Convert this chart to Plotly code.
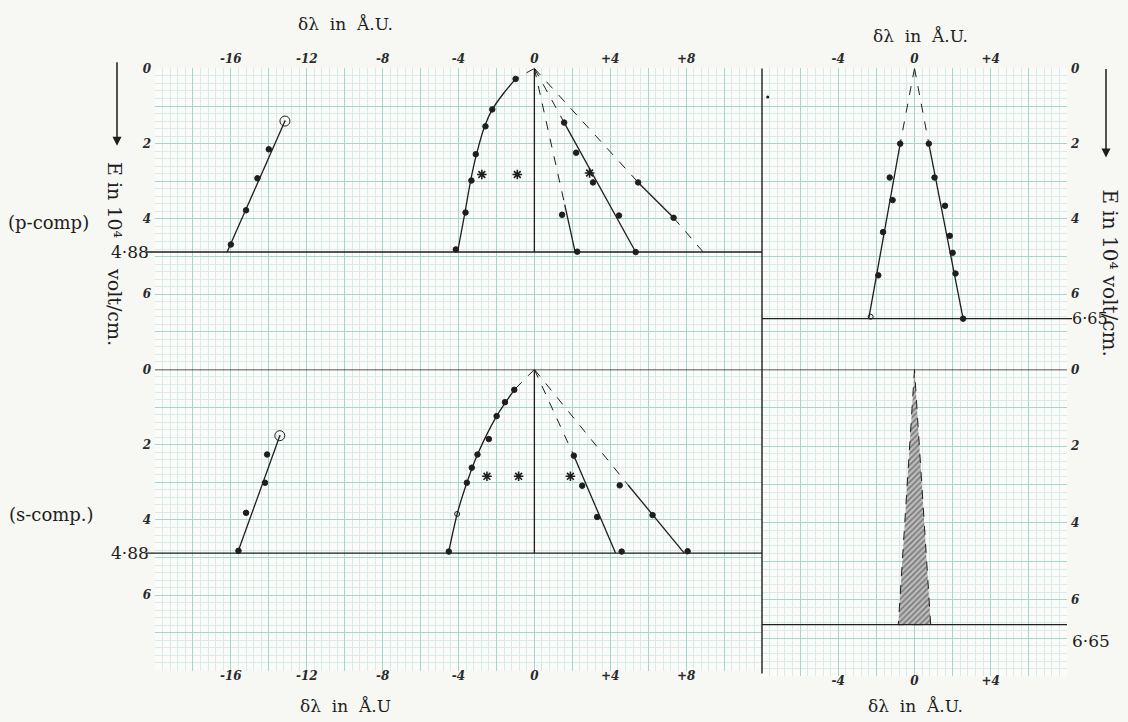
import numpy as np
import plotly.graph_objects as go

W, H = 1128, 722

# ---------------- data ----------------
E_LEFT = 4.88     # limit field, left panels
E_RIGHT = 6.65    # limit field, right panels

# ---- upper-left (p-comp) ----
p_far_line_x = [-13.15, -16.2]
p_far_line_y = [1.40, 4.88]
p_far_pts_x = [-14.0, -14.6, -15.2, -16.0]
p_far_pts_y = [2.15, 2.92, 3.77, 4.68]
p_far_circ_x = [-13.15]
p_far_circ_y = [1.40]

p_curve_dash_x = [0.0, -0.99]
p_curve_dash_y = [0.0, 0.28]
p_curve_x = [-0.99, -1.62, -2.22, -2.62, -3.05, -3.36, -3.66, -4.05]
p_curve_y = [0.28, 0.66, 1.09, 1.54, 2.28, 2.98, 3.83, 4.88]
p_curve_pts_x = [-0.99, -2.22, -2.58, -3.09, -3.32, -3.63, -4.14]
p_curve_pts_y = [0.28, 1.09, 1.54, 2.28, 2.98, 3.83, 4.81]

p_star_x = [-2.77, -0.9, 2.91]
p_star_y = [2.82, 2.82, 2.78]

p_l1_dash_x = [0.0, 1.60]
p_l1_dash_y = [0.0, 3.62]
p_l1_x = [1.60, 2.15]
p_l1_y = [3.62, 4.88]
p_l1_pts_x = [1.46, 2.26]
p_l1_pts_y = [3.89, 4.87]

p_l2_dash_x = [0.0, 1.57]
p_l2_dash_y = [0.0, 1.44]
p_l2_x = [1.57, 5.34]
p_l2_y = [1.44, 4.88]
p_l2_pts_x = [1.57, 2.20, 3.09, 4.46, 5.34]
p_l2_pts_y = [1.44, 2.24, 3.03, 3.91, 4.88]

p_l3_dash1_x = [0.0, 5.47]
p_l3_dash1_y = [0.0, 3.03]
p_l3_x = [5.47, 7.34]
p_l3_y = [3.03, 3.97]
p_l3_dash2_x = [7.34, 8.90]
p_l3_dash2_y = [3.97, 4.88]
p_l3_pts_x = [5.47, 7.34]
p_l3_pts_y = [3.03, 3.97]

# ---- lower-left (s-comp) ----
s_far_line_x = [-13.42, -15.65]
s_far_line_y = [1.76, 4.88]
s_far_pts_x = [-14.09, -14.2, -15.2, -15.6]
s_far_pts_y = [2.26, 3.01, 3.81, 4.82]
s_far_circ_x = [-13.42]
s_far_circ_y = [1.76]

s_curve_dash_x = [0.0, -1.06]
s_curve_dash_y = [0.0, 0.54]
s_curve_x = [-1.06, -1.99, -3.0, -3.56, -4.07, -4.53]
s_curve_y = [0.54, 1.24, 2.26, 3.01, 3.84, 4.88]
s_curve_pts_x = [-1.06, -1.55, -1.99, -2.40, -3.0, -3.30, -3.56, -4.51]
s_curve_pts_y = [0.54, 0.87, 1.24, 1.85, 2.26, 2.61, 3.01, 4.84]
s_open_x = [-4.07]
s_open_y = [3.84]

s_star_x = [-2.5, -0.83, 1.9]
s_star_y = [2.84, 2.84, 2.84]

s_la_dash_x = [0.0, 2.08]
s_la_dash_y = [0.0, 2.29]
s_la_x = [2.08, 4.28]
s_la_y = [2.29, 4.88]
s_la_pts_x = [2.08, 2.52, 3.31, 4.60]
s_la_pts_y = [2.29, 3.09, 3.92, 4.84]

s_lb_dash_x = [0.0, 4.94]
s_lb_dash_y = [0.0, 3.07]
s_lb_x = [4.94, 7.90]
s_lb_y = [3.07, 4.88]
s_lb_pts_x = [4.50, 6.23, 8.08]
s_lb_pts_y = [3.08, 3.87, 4.83]

# ---- upper-right ----
r_left_dash_x = [0.0, -0.75]
r_left_dash_y = [0.0, 2.0]
r_left_x = [-0.75, -2.40]
r_left_y = [2.0, 6.65]
r_left_pts_x = [-0.75, -1.30, -1.15, -1.65, -1.90]
r_left_pts_y = [2.0, 2.90, 3.50, 4.35, 5.50]
r_left_open_x = [-2.30]
r_left_open_y = [6.60]

r_right_dash_x = [0.0, 0.75]
r_right_dash_y = [0.0, 2.0]
r_right_x = [0.75, 2.55]
r_right_y = [2.0, 6.65]
r_right_pts_x = [0.75, 1.05, 1.60, 1.85, 2.00, 2.15, 2.55]
r_right_pts_y = [2.0, 2.90, 3.65, 4.45, 4.90, 5.45, 6.65]

r_speck_x = [-7.7]
r_speck_y = [0.76]

# ---- lower-right (hatched triangle) ----
tri_x = [0.0, -0.85, 0.85, 0.0]
tri_y = [0.0, 6.65, 6.65, 0.0]

# tick labels
x_left_ticks = [-16, -12, -8, -4, 0, 4, 8]
x_left_text = ["-16", "-12", "-8", "-4", "0", "+4", "+8"]
x_right_ticks = [-4, 0, 4]
x_right_text = ["-4", "0", "+4"]
y_ticks = [0, 2, 4, 6]
y_text = ["0", "2", "4", "6"]

# ---------------- styling ----------------
SERIF = "DejaVu Serif"
INK = "#1e1e1e"
GRID_MAJ = "#a3d6ce"
GRID_MIN = "#d9ebe7"
BG = "#f7f7f4"


def px(v):
    return v / W


def py(v):
    return 1 - v / H


fig = go.Figure()


def seg(x, y, xa, ya, dash="solid", width=1.3):
    fig.add_trace(go.Scatter(x=x, y=y, xaxis=xa, yaxis=ya, mode="lines",
                             line=dict(color=INK, width=width, dash=dash),
                             hoverinfo="skip", showlegend=False))


def spline(x, y, xa, ya):
    fig.add_trace(go.Scatter(x=x, y=y, xaxis=xa, yaxis=ya, mode="lines",
                             line=dict(color=INK, width=1.3, shape="spline", smoothing=0.8),
                             hoverinfo="skip", showlegend=False))


def pts(x, y, xa, ya, symbol="circle", size=5.5, lw=1):
    fig.add_trace(go.Scatter(x=x, y=y, xaxis=xa, yaxis=ya, mode="markers",
                             marker=dict(symbol=symbol, size=size, color=INK,
                                         line=dict(color=INK, width=lw)),
                             cliponaxis=False, hoverinfo="skip", showlegend=False))


# upper-left
seg([0, 0], [0, E_LEFT], "x", "y")
seg(p_far_line_x, p_far_line_y, "x", "y")
pts(p_far_pts_x, p_far_pts_y, "x", "y")
pts(p_far_circ_x, p_far_circ_y, "x", "y", "circle-open-dot", 10, 1)
seg(p_curve_dash_x, p_curve_dash_y, "x", "y", "dash", 1)
spline(p_curve_x, p_curve_y, "x", "y")
pts(p_curve_pts_x, p_curve_pts_y, "x", "y")
pts(p_star_x, p_star_y, "x", "y", "asterisk-open", 8, 1.6)
seg(p_l1_dash_x, p_l1_dash_y, "x", "y", "dash", 1)
seg(p_l1_x, p_l1_y, "x", "y")
pts(p_l1_pts_x, p_l1_pts_y, "x", "y")
seg(p_l2_dash_x, p_l2_dash_y, "x", "y", "dash", 1)
seg(p_l2_x, p_l2_y, "x", "y")
pts(p_l2_pts_x, p_l2_pts_y, "x", "y")
seg(p_l3_dash1_x, p_l3_dash1_y, "x", "y", "dash", 1)
seg(p_l3_x, p_l3_y, "x", "y")
seg(p_l3_dash2_x, p_l3_dash2_y, "x", "y", "dash", 1)
pts(p_l3_pts_x, p_l3_pts_y, "x", "y")

# lower-left
seg([0, 0], [0, E_LEFT], "x2", "y2")
seg(s_far_line_x, s_far_line_y, "x2", "y2")
pts(s_far_pts_x, s_far_pts_y, "x2", "y2")
pts(s_far_circ_x, s_far_circ_y, "x2", "y2", "circle-open-dot", 10, 1)
seg(s_curve_dash_x, s_curve_dash_y, "x2", "y2", "dash", 1)
spline(s_curve_x, s_curve_y, "x2", "y2")
pts(s_curve_pts_x, s_curve_pts_y, "x2", "y2")
pts(s_open_x, s_open_y, "x2", "y2", "circle-open", 5, 1)
pts(s_star_x, s_star_y, "x2", "y2", "asterisk-open", 8, 1.6)
seg(s_la_dash_x, s_la_dash_y, "x2", "y2", "dash", 1)
seg(s_la_x, s_la_y, "x2", "y2")
pts(s_la_pts_x, s_la_pts_y, "x2", "y2")
seg(s_lb_dash_x, s_lb_dash_y, "x2", "y2", "dash", 1)
seg(s_lb_x, s_lb_y, "x2", "y2")
pts(s_lb_pts_x, s_lb_pts_y, "x2", "y2")

# upper-right
seg(r_left_dash_x, r_left_dash_y, "x3", "y3", "dash", 1)
seg(r_left_x, r_left_y, "x3", "y3")
pts(r_left_pts_x, r_left_pts_y, "x3", "y3")
pts(r_left_open_x, r_left_open_y, "x3", "y3", "circle-open", 5, 1)
seg(r_right_dash_x, r_right_dash_y, "x3", "y3", "dash", 1)
seg(r_right_x, r_right_y, "x3", "y3")
pts(r_right_pts_x, r_right_pts_y, "x3", "y3")
pts(r_speck_x, r_speck_y, "x3", "y3", "circle", 3, 0)

# lower-right hatched triangle
fig.add_trace(go.Scatter(x=tri_x, y=tri_y, xaxis="x4", yaxis="y4", mode="lines",
                         fill="toself", fillcolor="#b0b0b0",
                         fillpattern=dict(shape="/", fgcolor="#333333", bgcolor="#bdbdbd",
                                          size=4, solidity=0.4),
                         line=dict(color=INK, width=1, dash="dash"),
                         hoverinfo="skip", showlegend=False))

# ---------------- axes ----------------
X_L = [px(155), px(762)]
X_R = [px(762), px(1067)]
Y_UP = [py(366), py(62)]
Y_LO_L = [py(670), py(366)]
Y_LO_R = [py(676), py(366)]

tickfont = dict(family=SERIF, size=12, color="#2a2a2a", style="italic", weight="bold")


def xax(rng, dom, side, anchor, ticks, texts):
    major = list(np.arange(rng[0], rng[1] + 0.001, 2.0))
    minor = list(np.arange(rng[0], rng[1] + 0.001, 0.4))
    labels = {t: s for t, s in zip(ticks, texts)}
    tt = [labels.get(int(round(v)), "") if abs(v - round(v)) < 1e-6 else "" for v in major]
    return dict(range=rng, domain=dom, side=side, anchor=anchor,
                tickmode="array", tickvals=major, ticktext=tt,
                showgrid=True, gridcolor=GRID_MAJ, gridwidth=1,
                minor=dict(tickmode="array", tickvals=minor, showgrid=True,
                           gridcolor=GRID_MIN, gridwidth=0.7, ticks=""),
                zeroline=False, showline=False, ticks="",
                ticklabelstandoff=(-4 if side == "bottom" else 2),
                tickfont=tickfont, fixedrange=True)


def yax(dom, side, anchor, ticks, texts):
    major = list(np.arange(0, 8.001, 1.0))
    minor = list(np.arange(0, 8.001, 0.2))
    labels = {t: s for t, s in zip(ticks, texts)}
    tt = [labels.get(int(round(v)), "") for v in major]
    return dict(range=[8, 0], domain=dom, side=side, anchor=anchor,
                tickmode="array", tickvals=major, ticktext=tt,
                showgrid=True, gridcolor=GRID_MAJ, gridwidth=1,
                minor=dict(tickmode="array", tickvals=minor, showgrid=True,
                           gridcolor=GRID_MIN, gridwidth=0.7, ticks=""),
                zeroline=False, showline=False, ticks="", ticklabelstandoff=3,
                tickfont=tickfont, fixedrange=True)


fig.update_layout(
    width=W, height=H,
    margin=dict(l=0, r=0, t=0, b=0),
    paper_bgcolor=BG, plot_bgcolor="#fbfcfa",
    showlegend=False,
    xaxis=xax([-20, 12], X_L, "top", "y", x_left_ticks, x_left_text),
    yaxis=yax(Y_UP, "left", "x", y_ticks, y_text),
    xaxis2=xax([-20, 12], X_L, "bottom", "y2", x_left_ticks, x_left_text),
    yaxis2=yax(Y_LO_L, "left", "x2", y_ticks, y_text),
    xaxis3=xax([-8, 8], X_R, "top", "y3", x_right_ticks, x_right_text),
    yaxis3=yax(Y_UP, "right", "x3", y_ticks, y_text),
    xaxis4=xax([-8, 8], X_R, "bottom", "y4", x_right_ticks, x_right_text),
    yaxis4=yax(Y_LO_R, "right", "x4", y_ticks, y_text),
)

# ---------------- reference lines (shapes) ----------------
LK = dict(color=INK, width=1.4)
shapes = [
    dict(type="line", xref="paper", yref="y", x0=px(146), x1=px(762), y0=E_LEFT, y1=E_LEFT, line=LK),
    dict(type="line", xref="paper", yref="y2", x0=px(155), x1=px(1067), y0=0, y1=0, line=LK),
    dict(type="line", xref="paper", yref="y2", x0=px(146), x1=px(762), y0=E_LEFT, y1=E_LEFT, line=LK),
    dict(type="line", xref="paper", yref="y3", x0=px(762), x1=px(1072), y0=E_RIGHT, y1=E_RIGHT, line=LK),
    dict(type="line", xref="paper", yref="y4", x0=px(762), x1=px(1067), y0=E_RIGHT, y1=E_RIGHT, line=LK),
    dict(type="line", xref="paper", yref="paper", x0=px(762), x1=px(762), y0=py(673), y1=py(62), line=LK),
]
fig.update_layout(shapes=shapes)

# ---------------- text ----------------
ann = []


def text(t, x, y, xref="paper", yref="paper", size=17, angle=0, xanchor="center", yanchor="middle"):
    ann.append(dict(text=t, x=x, y=y, xref=xref, yref=yref, showarrow=False,
                    font=dict(family=SERIF, size=size, color=INK), textangle=angle,
                    xanchor=xanchor, yanchor=yanchor))


text("δλ&nbsp;&nbsp;in&nbsp;&nbsp;Å.U.", px(345), py(17), size=17)
text("δλ&nbsp;&nbsp;in&nbsp;&nbsp;Å.U.", px(920), py(29), size=17)
text("δλ&nbsp;&nbsp;in&nbsp;&nbsp;Å.U", px(345), py(706), size=17)
text("δλ&nbsp;&nbsp;in&nbsp;&nbsp;Å.U.", px(915), py(706), size=17)
text("(p-comp)", px(48), py(218), size=18)
text("(s-comp.)", px(51), py(512), size=18)
text("4·88", px(151), E_LEFT, yref="y", size=17, xanchor="right")
text("4·88", px(151), E_LEFT, yref="y2", size=17, xanchor="right")
text("6·65", px(1070), E_RIGHT, yref="y3", size=16, xanchor="left")
text("6·65", px(1070), py(640), size=17, xanchor="left")
# rotated axis title, split around the 4·88 label as in the original
text("E in 10⁴", px(115), py(195), size=19, angle=90)
text("volt/cm.", px(115), py(303), size=19, angle=90)
text("E in 10⁴ volt/cm.", px(1110), py(268), size=20, angle=90)

# arrows pointing in the direction of increasing field
ann.append(dict(x=px(117), y=py(140), xref="paper", yref="paper", ax=0, ay=-85,
                showarrow=True, arrowhead=2, arrowsize=1.2, arrowwidth=1.5,
                arrowcolor=INK, text=""))
ann.append(dict(x=px(1106), y=py(152), xref="paper", yref="paper", ax=0, ay=-90,
                showarrow=True, arrowhead=2, arrowsize=1.2, arrowwidth=1.5,
                arrowcolor=INK, text=""))
fig.update_layout(annotations=ann)

fig.write_html("out.html", config={"displayModeBar": False},
               post_script="document.body.style.margin='0';document.body.style.overflow='hidden';")
